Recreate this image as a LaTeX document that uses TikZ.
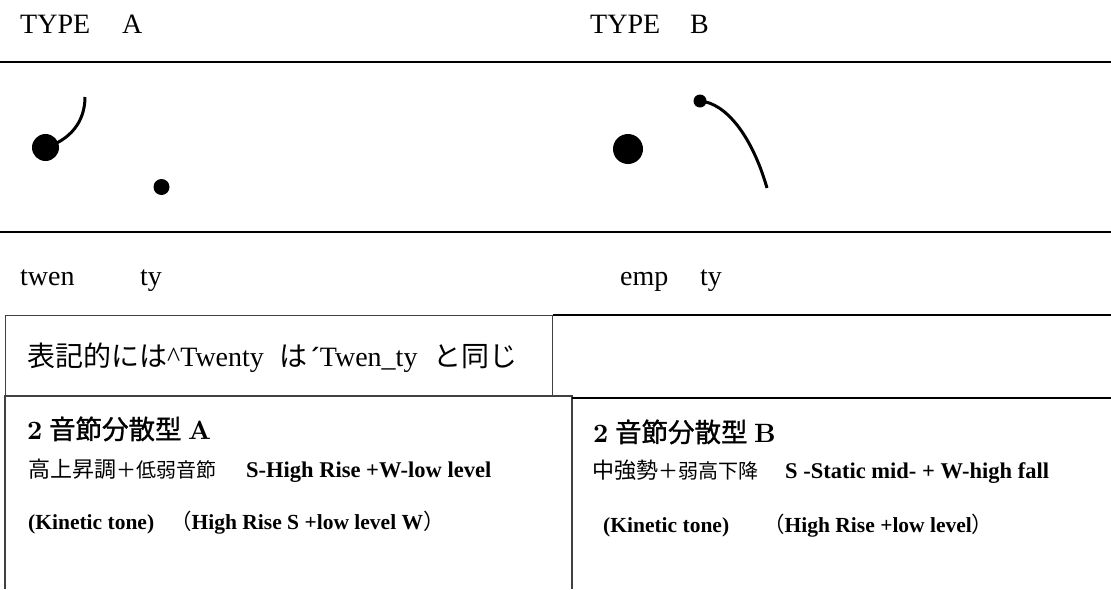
\documentclass[tikz,border=0pt]{standalone}
\usepackage{fontspec}
\setmainfont{Liberation Serif}
\newfontfamily\jp{Noto Sans CJK JP}
\newfontfamily\jpb{Noto Sans CJK JP}[FakeBold=1.2]
\newfontfamily\dv{DejaVu Sans}
\newfontfamily\lmr{lmroman10}[Extension=.otf, UprightFont=*-regular, BoldFont=*-bold]
\begin{document}
\begin{tikzpicture}[x=1pt,y=-1pt,
  lbl/.style={anchor=base west, inner sep=0pt, font=\fontsize{28}{32}\selectfont},
  rulerline/.style={line width=1.6pt},
  cellline/.style={draw=black!75, line width=1.1pt},
  cellthick/.style={draw=black, line width=1.6pt},
  blob/.style={circle, fill=black, inner sep=0pt},
  tone/.style={line width=3pt},
  head/.style={anchor=base west, inner sep=0pt, font=\fontsize{26.5}{30}\selectfont},
  sub/.style={anchor=base west, inner sep=0pt, font=\fontsize{22.5}{26}\selectfont\bfseries},
  note/.style={anchor=base west, inner sep=0pt, font=\fontsize{21.5}{25}\selectfont\bfseries}]
\useasboundingbox (0,0) rectangle (1111,589);
% headings
\node[lbl] (ta) at (20,33) {TYPE\hspace{32pt}A};
\node[lbl] (tb) at (590,33) {TYPE\hspace{30pt}B};
% rules
\coordinate (r1l) at (0,62); \coordinate (r1r) at (1111,62);
\coordinate (r2l) at (0,232); \coordinate (r2r) at (1111,232);
\draw[rulerline] (r1l) -- (r1r);
\draw[rulerline] (r2l) -- (r2r);
% type A tones
\node[blob, minimum size=27pt] (a1) at (45.5,147.5) {};
\node[blob, minimum size=16pt] (a2) at (161.5,187) {};
\coordinate (a1end) at (85,97);
\draw[tone] (a1.center) .. controls (70,140) and (85,122) .. (a1end);
% type B tones
\node[blob, minimum size=30pt] (b1) at (628,149) {};
\node[blob, minimum size=13pt] (b2) at (700,101) {};
\coordinate (b2end) at (767,188);
\draw[tone] (b2.center) .. controls (726,103) and (752,136) .. (b2end);
% syllables
\node[lbl] (w1) at (20,285) {twen};
\node[lbl] (w2) at (140,285) {ty};
\node[lbl] (w3) at (620,285) {emp};
\node[lbl] (w4) at (700,285) {ty};
% table row 1
\node[cellline, anchor=north west, minimum width=547pt, minimum height=81pt, inner sep=0pt] (c1) at (5,315) {};
\coordinate (c1r) at (1111,315);
\draw[cellthick] (c1.north east) -- (c1r);
\node[anchor=base west, inner sep=0pt, font=\fontsize{28}{32}\selectfont] (t1) at (27,366)
  {{\jp 表記的には}\textasciicircum Twenty\hspace{16pt}{\jp は}{\dv\fontsize{24}{28}\selectfont\bfseries ˊ}Twen\_ty\hspace{16pt}{\jp と同じ}};
% table row 2
\coordinate (l0) at (5,589); \coordinate (l1) at (5,396); \coordinate (l2) at (572,396); \coordinate (l3) at (572,589);
\draw[cellline] (l0) -- (l1) -- (l2) -- (l3);
\coordinate (rt0) at (572,398); \coordinate (rt1) at (1111,398);
\draw[cellthick] (rt0) -- (rt1);
% left cell texts
\node[head] (ha) at (27,439) {{\lmr\bfseries 2} {\jpb 音節分散型} {\lmr\bfseries A}};
\node[anchor=base west, inner sep=0pt] (sa) at (28,477)
  {{\jp\fontsize{22}{26}\selectfont 高上昇調}{\jp\fontsize{20}{24}\selectfont ＋低弱音節}};
\node[sub] (sae) at (246,477) {S-High Rise +W-low level};
\node[note] (ka) at (28,529) {(Kinetic tone)};
\node[note] (ka2) at (170,529) {{\jp\mdseries （}High Rise S +low level W{\jp\mdseries ）}};
% right cell texts
\node[head] (hb) at (593,442) {{\lmr\bfseries 2} {\jpb 音節分散型} {\lmr\bfseries B}};
\node[anchor=base west, inner sep=0pt] (sb) at (592,478)
  {{\jp\fontsize{22}{26}\selectfont 中強勢}{\jp\fontsize{20}{24}\selectfont ＋弱高下降}};
\node[sub] (sbe) at (785,478) {S -Static mid- + W-high fall};
\node[note] (kb) at (603,532) {(Kinetic tone)};
\node[note] (kb2) at (763,532) {{\jp\mdseries （}High Rise +low level{\jp\mdseries ）}};
\end{tikzpicture}
\end{document}
